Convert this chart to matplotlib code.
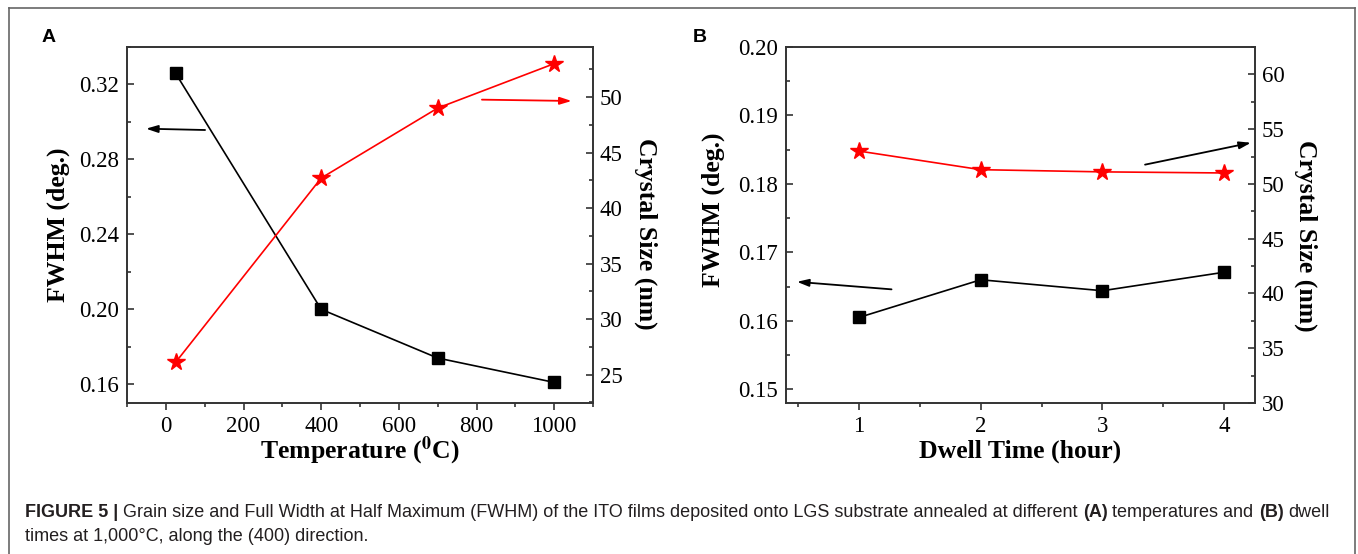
import matplotlib
matplotlib.use('Agg')
import matplotlib.pyplot as plt
from matplotlib.ticker import MultipleLocator
from matplotlib.lines import Line2D

# Panel A: films annealed at different temperatures
temp_c = [25, 400, 700, 1000]
fwhm_temp = [0.326, 0.200, 0.174, 0.161]
size_temp = [26.1, 42.7, 49.0, 53.0]

# Panel B: dwell time at 1000 C
dwell_h = [1, 2, 3, 4]
fwhm_dwell = [0.1605, 0.1660, 0.1644, 0.1671]
size_dwell = [53.0, 51.3, 51.1, 51.0]

# pointer arrows: (tail, head) in data coords of the axis they point to
arrows_a_left = ((101, 0.2957), (-51, 0.2964))
arrows_a_right = ((814, 49.76), (1045, 49.64))
arrows_b_left = ((1.267, 0.1646), (0.49, 0.1657))
arrows_b_right = ((3.35, 51.76), (4.22, 53.76))

W, H = 1358, 554
SERIF = 'Liberation Serif'
SANS = 'Liberation Sans'
SPINE = '#333333'
TICK_FS = 16.5
LABEL_FS = 18.5
CAP_FS = 12.95

plt.rcParams['mathtext.fontset'] = 'stix'

fig = plt.figure(figsize=(W / 100, H / 100), dpi=100)


def px_axes(left, right, top, bottom):
    return fig.add_axes([left / W, 1 - bottom / H, (right - left) / W, (bottom - top) / H])


def style(ax, ax2, xmajor, xminor, ymajor, yminor, y2major, y2minor):
    for a in (ax, ax2):
        for s in a.spines.values():
            s.set_color(SPINE)
            s.set_linewidth(1.2)
    ax.xaxis.set_major_locator(MultipleLocator(xmajor))
    ax.xaxis.set_minor_locator(MultipleLocator(xminor))
    ax.yaxis.set_major_locator(MultipleLocator(ymajor))
    ax.yaxis.set_minor_locator(MultipleLocator(yminor))
    ax2.yaxis.set_major_locator(MultipleLocator(y2major))
    ax2.yaxis.set_minor_locator(MultipleLocator(y2minor))
    ax.tick_params(axis='x', which='major', direction='out', length=5, width=1.2,
                   color=SPINE, pad=4, labelsize=TICK_FS)
    ax.tick_params(axis='x', which='minor', direction='out', length=3, width=1.2, color=SPINE)
    ax.tick_params(axis='y', which='major', direction='in', length=5, width=1.2,
                   color=SPINE, pad=6, labelsize=TICK_FS)
    ax.tick_params(axis='y', which='minor', direction='in', length=3, width=1.2, color=SPINE)
    ax2.tick_params(axis='y', which='major', direction='in', length=5, width=1.2,
                    color=SPINE, pad=5, labelsize=TICK_FS)
    ax2.tick_params(axis='y', which='minor', direction='in', length=3, width=1.2, color=SPINE)
    for lab in ax.get_xticklabels() + ax.get_yticklabels() + ax2.get_yticklabels():
        lab.set_fontfamily(SERIF)


def arrow(ax, tail, head, color):
    ax.annotate('', xy=head, xytext=tail,
                arrowprops=dict(arrowstyle='-|>,head_length=0.7,head_width=0.22',
                                color=color, lw=1.3, mutation_scale=10,
                                shrinkA=0, shrinkB=0))


def labels(ax, ax2, xlabel, xy_x, xy_y, ly, ry):
    kw = dict(fontfamily=SERIF, fontweight='bold', fontsize=LABEL_FS)
    ax.set_xlabel(xlabel, va='center', **kw)
    ax.xaxis.set_label_coords(0.5, xy_y)
    ax.set_ylabel('FWHM (deg.)', va='center', **kw)
    ax.yaxis.set_label_coords(xy_x[0], ly)
    ax2.set_ylabel('Crystal Size (nm)', va='center', rotation=270, **kw)
    ax2.yaxis.set_label_coords(xy_x[1], ry)


# ---- panel A ----
axA = px_axes(127, 593, 47, 403)
axA2 = axA.twinx()
axA.plot(temp_c, fwhm_temp, color='black', lw=1.2, marker='s', ms=8, zorder=3)
axA2.plot(temp_c, size_temp, color='red', lw=1.2, marker='*', ms=13, zorder=3)
axA.set_xlim(-100, 1100)
axA.set_ylim(0.15, 0.34)
axA2.set_ylim(22.45, 54.5)
style(axA, axA2, 200, 100, 0.04, 0.02, 5, 2.5)
axA.yaxis.set_major_formatter(plt.FuncFormatter(lambda v, p: f'{v:.2f}'))
labels(axA, axA2, r'Temperature ($\mathbf{^{0}}$C)', (-0.148, 1.114), -0.135, 0.5, 0.475)
arrow(axA, *arrows_a_left, 'black')
arrow(axA2, *arrows_a_right, 'red')
fig.text(49 / W, 1 - 38 / H, 'A', fontfamily=SANS, fontweight='bold', fontsize=14,
         ha='center', va='center')

# ---- panel B ----
axB = px_axes(786, 1254.6, 47, 403)
axB2 = axB.twinx()
axB.plot(dwell_h, fwhm_dwell, color='black', lw=1.2, marker='s', ms=8, zorder=3)
axB2.plot(dwell_h, size_dwell, color='red', lw=1.2, marker='*', ms=13, zorder=3)
axB.set_xlim(0.4, 4.25)
axB.set_ylim(0.148, 0.200)
axB2.set_ylim(30, 62.5)
style(axB, axB2, 1, 0.5, 0.01, 0.005, 5, 2.5)
axB.yaxis.set_major_formatter(plt.FuncFormatter(lambda v, p: f'{v:.2f}'))
labels(axB, axB2, 'Dwell Time (hour)', (-0.1545, 1.11), -0.137, 0.542, 0.469)
arrow(axB, *arrows_b_left, 'black')
arrow(axB2, *arrows_b_right, 'black')
fig.text(700 / W, 1 - 38 / H, 'B', fontfamily=SANS, fontweight='bold', fontsize=14,
         ha='center', va='center')

# ---- frame around the figure ----
BORDER = '#666666'
fx0, fx1, fy0 = 8.5 / W, 1355 / W, 1 - 7.5 / H
for xs, ys in (([fx0, fx0], [0, fy0]), ([fx0, fx1], [fy0, fy0]), ([fx1, fx1], [fy0, 0])):
    fig.add_artist(Line2D(xs, ys, transform=fig.transFigure, color=BORDER, lw=1.2))

# ---- caption, set run by run so bold and regular text can mix ----
CAP = '#231f20'
caption = [
    [('FIGURE 5 |', 'bold'),
     ('Grain size and Full Width at Half Maximum (FWHM) of the ITO films deposited '
      'onto LGS substrate annealed at different', 'normal'),
     ('(A)', 'bold'), ('temperatures and', 'normal'), ('(B)', 'bold'), ('dwell', 'normal')],
    [('times at 1,000\u00b0C, along the (400) direction.', 'normal')],
]
renderer = fig.canvas.get_renderer()


def width(s, weight):
    t = fig.text(0, 0, s, fontfamily=SANS, fontsize=CAP_FS, fontweight=weight)
    w = t.get_window_extent(renderer).width
    t.remove()
    return w


space = width('a a', 'normal') - width('aa', 'normal')
for line, y in zip(caption, (517, 541)):
    x = 25
    for run, weight in line:
        t = fig.text(x / W, 1 - y / H, run, fontfamily=SANS, fontsize=CAP_FS,
                     fontweight=weight, color=CAP, va='baseline')
        x += t.get_window_extent(renderer).width + space

fig.savefig('out.png', dpi=100)
